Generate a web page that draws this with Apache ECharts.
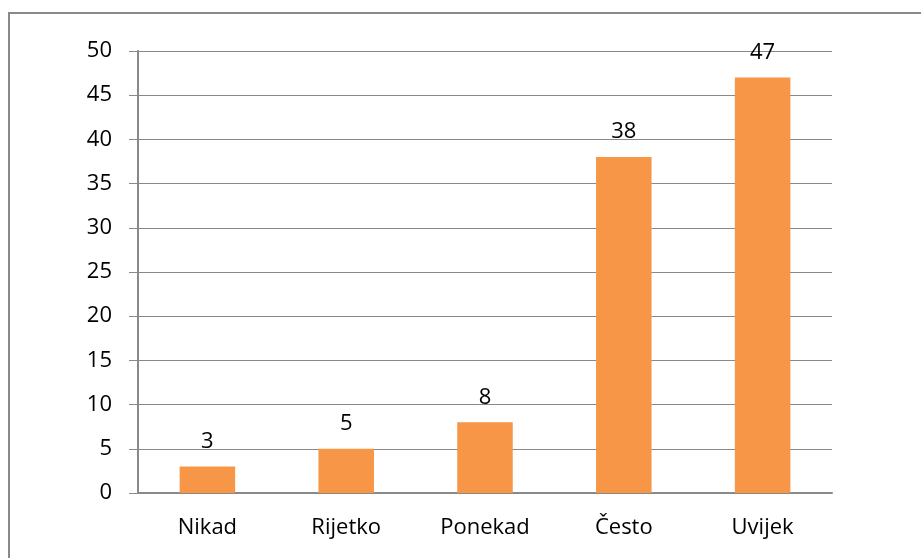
<!DOCTYPE html>
<html>
<head>
<meta charset="utf-8">
<script src="https://cdn.jsdelivr.net/npm/echarts@6/dist/echarts.min.js"></script>
<style>
  html, body { margin: 0; padding: 0; background: #fff; }
  #container { width: 921px; height: 558px; }
</style>
</head>
<body>
<div id="container"></div>
<script>
  // podaci
  const categories = ['Nikad', 'Rijetko', 'Ponekad', 'Često', 'Uvijek'];
  const values = [3, 5, 8, 38, 47];

  const gray = '#898989';
  const font = 'Open Sans';

  const myChart = echarts.init(document.getElementById('container'), null, { renderer: 'canvas' });
  const option = {
    backgroundColor: '#fff',
    animation: false,
    graphic: [{
      type: 'rect',
      shape: { x: 9, y: 13, width: 1000, height: 1000 },
      style: { fill: 'none', stroke: gray, lineWidth: 2 },
      silent: true
    }],
    grid: { left: 138, right: 89, top: 51, bottom: 65 },
    xAxis: {
      type: 'category',
      data: categories,
      axisLine: { lineStyle: { color: gray, width: 2 } },
      axisTick: { length: 8, lineStyle: { color: gray, width: 2 } },
      axisLabel: { color: '#000', fontFamily: font, fontSize: 22, margin: 24 }
    },
    yAxis: {
      type: 'value',
      min: 0, max: 50, interval: 5,
      axisLine: { show: true, lineStyle: { color: gray, width: 2 } },
      axisTick: { show: true, length: 9, lineStyle: { color: gray, width: 1 } },
      axisLabel: { color: '#000', fontFamily: font, fontSize: 22, margin: 26 },
      splitLine: { lineStyle: { color: gray, width: 1 } }
    },
    series: [{
      type: 'bar',
      data: values,
      barWidth: '40%',
      itemStyle: { color: '#F79646' },
      label: {
        show: true, position: 'top', distance: 14,
        color: '#000', fontFamily: font, fontSize: 22
      }
    }]
  };
  myChart.setOption(option);
</script>
</body>
</html>
